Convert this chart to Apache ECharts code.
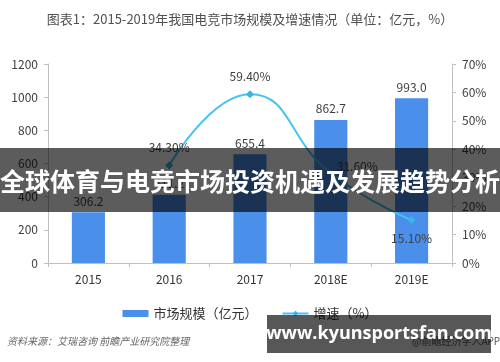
<!DOCTYPE html>
<html><head><meta charset="utf-8">
<script src="https://cdn.jsdelivr.net/npm/echarts@6/dist/echarts.min.js"></script>
<style>html,body{margin:0;padding:0;background:#fff}#c{width:500px;height:362px}</style>
</head><body><div id="c"></div>
<script>
var categories = ['2015', '2016', '2017', '2018E', '2019E'];
var marketSize = [306.2, 411.2, 655.4, 862.7, 993.0];
var growthRate = ['-', 34.3, 59.4, 31.6, 15.1];
var leftTicks = [0, 1200, 200];
var rightTicks = [0, 70, 10];
var titleText = '图表1：2015-2019年我国电竞市场规模及增速情况（单位：亿元，%）';
var sourceText = '资料来源：艾瑞咨询 前瞻产业研究院整理';
var overlayText = '全球体育与电竞市场投资机遇及发展趋势分析';
var siteText = 'www.kyunsportsfan.com';

var font = '"Noto Sans CJK SC", "Noto Sans", sans-serif';
var chart = echarts.init(document.getElementById('c'), null, {renderer: 'canvas'});
var axisLine = {show: true, lineStyle: {color: '#bfbfbf', width: 1}};
var rateLabelPos = [null, 'top', 'top', 'right', 'bottom'];
chart.setOption({
  animation: false,
  textStyle: {fontFamily: font},
  title: {text: titleText, left: 'center', top: 8,
    textStyle: {fontSize: 13, fontWeight: 'normal', color: '#505050', fontFamily: font}},
  grid: {left: 48, right: 48, top: 64, bottom: 99},
  legend: {
    top: 302, left: 'center', itemWidth: 26, itemHeight: 7, itemGap: 24,
    textStyle: {fontSize: 13, color: '#333', fontFamily: font},
    data: [{name: '市场规模（亿元）', icon: 'rect'}, {name: '增速（%）'}]
  },
  xAxis: {
    type: 'category', data: categories,
    axisLine: axisLine,
    axisTick: {show: true, lineStyle: {color: '#bfbfbf'}, length: 4},
    axisLabel: {fontSize: 12, color: '#333', margin: 10}
  },
  yAxis: [{
    type: 'value', min: leftTicks[0], max: leftTicks[1], interval: leftTicks[2],
    axisLine: axisLine, axisTick: {show: true, lineStyle: {color: '#bfbfbf'}, length: 4},
    splitLine: {show: false},
    axisLabel: {fontSize: 12, color: '#404040', margin: 10,
      formatter: function (v) { return String(v); }}
  }, {
    type: 'value', min: rightTicks[0], max: rightTicks[1], interval: rightTicks[2],
    position: 'right',
    axisLine: axisLine, axisTick: {show: true, lineStyle: {color: '#bfbfbf'}, length: 4},
    splitLine: {show: false},
    axisLabel: {fontSize: 12, color: '#404040', margin: 10, formatter: '{value}%'}
  }],
  series: [{
    name: '市场规模（亿元）', type: 'bar', data: marketSize, barWidth: '41%',
    itemStyle: {color: '#4a8fea'},
    label: {show: true, position: 'top', distance: 5, fontSize: 12, color: '#404040',
      formatter: function (p) { return Number(p.value).toFixed(1); }}
  }, {
    name: '增速（%）', type: 'line', yAxisIndex: 1, smooth: 0.5,
    data: growthRate.map(function (v, i) {
      if (v === '-') return v;
      var lbl = {position: rateLabelPos[i]};
      if (rateLabelPos[i] === 'right') { lbl.offset = [0, -7]; lbl.distance = 2; }
      return {value: v, label: lbl};
    }),
    symbol: 'diamond', symbolSize: 8, showSymbol: true,
    lineStyle: {color: '#45c3f2', width: 2},
    itemStyle: {color: '#38b4e6'},
    label: {show: true, fontSize: 12, color: '#404040', distance: 8,
      formatter: function (p) { return Number(p.value).toFixed(2) + '%'; }}
  }],
  graphic: [
    {type: 'text', left: 7, top: 336, z: 5,
      style: {text: sourceText, fontSize: 10, fontStyle: 'italic', fill: '#666', fontFamily: font}},
    {type: 'text', left: 412, top: 336, z: 5,
      style: {text: '@前瞻经济学人APP', fontSize: 10, fill: '#555', fontFamily: font}},
    {type: 'rect', left: 0, top: 148, z: 100, shape: {width: 500, height: 64},
      style: {fill: 'rgba(0,0,0,0.64)'}},
    {type: 'text', x: 250, y: 181, z: 101,
      style: {text: overlayText, fontSize: 25, fontWeight: 'bold', fill: '#fff',
        align: 'center', verticalAlign: 'middle', fontFamily: font}},
    {type: 'rect', left: 267, top: 315, z: 100, shape: {width: 224, height: 38},
      style: {fill: 'rgba(0,0,0,0.66)'}},
    {type: 'text', x: 379, y: 334, z: 101,
      style: {text: siteText, fontSize: 18, fontWeight: 'bold', fill: '#fff',
        align: 'center', verticalAlign: 'middle', fontFamily: '"Open Sans", "DejaVu Sans", sans-serif'}}
  ]
});
</script></body></html>
